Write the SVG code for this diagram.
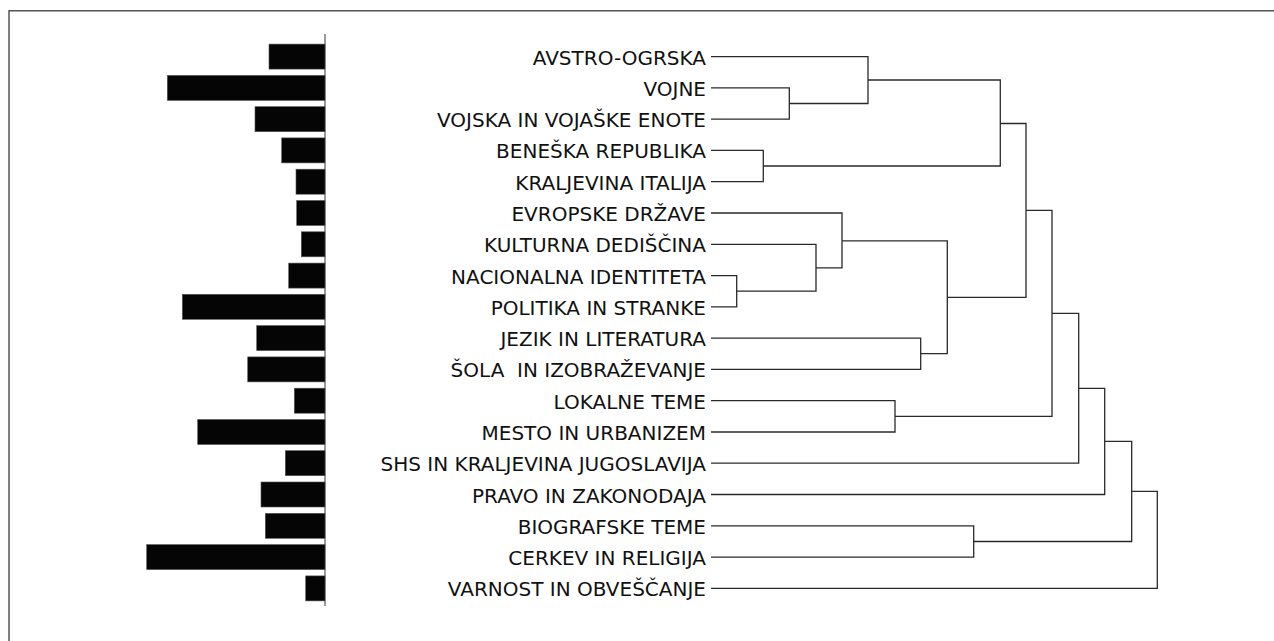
<svg xmlns="http://www.w3.org/2000/svg" width="1274" height="641" viewBox="0 0 1274 641">
<style>
.bar{fill:#050505;stroke:#555;stroke-width:0.6}
.lbl{font-family:"DejaVu Sans",Verdana,sans-serif;font-size:20px;fill:#111;text-anchor:end}
.ln{fill:none;stroke:#2a2a2a;stroke-width:1.3}
.frame{fill:none;stroke:#555;stroke-width:1.5}
</style>
<rect width="1274" height="641" fill="#fff"/>
<path class="frame" d="M9,641 V10.7 H1274"/>
<g id="bars">
<line x1="325" y1="34" x2="325" y2="606" stroke="#777" stroke-width="1.5"/>
<rect class="bar" x="269" y="44.1" width="56" height="25"/>
<rect class="bar" x="167.3" y="75.4" width="157.7" height="25"/>
<rect class="bar" x="255" y="106.7" width="70" height="25"/>
<rect class="bar" x="281.7" y="137.9" width="43.3" height="25"/>
<rect class="bar" x="296" y="169.2" width="29" height="25"/>
<rect class="bar" x="296.7" y="200.5" width="28.3" height="25"/>
<rect class="bar" x="301.3" y="231.8" width="23.7" height="25"/>
<rect class="bar" x="288.7" y="263.1" width="36.3" height="25"/>
<rect class="bar" x="182.3" y="294.3" width="142.7" height="25"/>
<rect class="bar" x="256.7" y="325.6" width="68.3" height="25"/>
<rect class="bar" x="247.7" y="356.9" width="77.3" height="25"/>
<rect class="bar" x="294.3" y="388.2" width="30.7" height="25"/>
<rect class="bar" x="197.7" y="419.5" width="127.3" height="25"/>
<rect class="bar" x="285.3" y="450.7" width="39.7" height="25"/>
<rect class="bar" x="261" y="482" width="64" height="25"/>
<rect class="bar" x="265.3" y="513.3" width="59.7" height="25"/>
<rect class="bar" x="146.7" y="544.6" width="178.3" height="25"/>
<rect class="bar" x="305.7" y="575.9" width="19.3" height="25"/>
</g>
<g id="n0"><text class="lbl" x="706" y="64.6">AVSTRO-OGRSKA</text></g>
<g id="n1"><text class="lbl" x="706" y="95.9">VOJNE</text></g>
<g id="n2"><text class="lbl" x="706" y="127.2">VOJSKA IN VOJAŠKE ENOTE</text></g>
<g id="n3"><text class="lbl" x="706" y="158.4">BENEŠKA REPUBLIKA</text></g>
<g id="n4"><text class="lbl" x="706" y="189.7">KRALJEVINA ITALIJA</text></g>
<g id="n5"><text class="lbl" x="706" y="221">EVROPSKE DRŽAVE</text></g>
<g id="n6"><text class="lbl" x="706" y="252.3">KULTURNA DEDIŠČINA</text></g>
<g id="n7"><text class="lbl" x="706" y="283.6">NACIONALNA IDENTITETA</text></g>
<g id="n8"><text class="lbl" x="706" y="314.8">POLITIKA IN STRANKE</text></g>
<g id="n9"><text class="lbl" x="706" y="346.1">JEZIK IN LITERATURA</text></g>
<g id="n10"><text class="lbl" x="706" y="377.4" xml:space="preserve">ŠOLA  IN IZOBRAŽEVANJE</text></g>
<g id="n11"><text class="lbl" x="706" y="408.7">LOKALNE TEME</text></g>
<g id="n12"><text class="lbl" x="706" y="440">MESTO IN URBANIZEM</text></g>
<g id="n13"><text class="lbl" x="706" y="471.2">SHS IN KRALJEVINA JUGOSLAVIJA</text></g>
<g id="n14"><text class="lbl" x="706" y="502.5">PRAVO IN ZAKONODAJA</text></g>
<g id="n15"><text class="lbl" x="706" y="533.8">BIOGRAFSKE TEME</text></g>
<g id="n16"><text class="lbl" x="706" y="565.1">CERKEV IN RELIGIJA</text></g>
<g id="n17"><text class="lbl" x="706" y="596.4">VARNOST IN OBVEŠČANJE</text></g>
<g id="connectors">
<path class="ln" d="M711,87.9 H789.3 V119.2 H711"/>
<path class="ln" d="M711,56.6 H868 V103.5 H789.3"/>
<path class="ln" d="M711,150.4 H763.3 V181.7 H711"/>
<path class="ln" d="M868,80 H1000.3 V166 H763.3"/>
<path class="ln" d="M711,275.6 H736.7 V306.8 H711"/>
<path class="ln" d="M711,244.3 H816 V291.2 H736.7"/>
<path class="ln" d="M711,213 H842 V267.8 H816"/>
<path class="ln" d="M711,338.1 H920.7 V369.4 H711"/>
<path class="ln" d="M842,240.9 H947.3 V353.7 H920.7"/>
<path class="ln" d="M1000.3,123.5 H1026 V297.3 H947.3"/>
<path class="ln" d="M711,400.7 H895 V432 H711"/>
<path class="ln" d="M1026,210.4 H1052 V416.4 H895"/>
<path class="ln" d="M1052,313.4 H1078.7 V463.2 H711"/>
<path class="ln" d="M1078.7,388.3 H1104.7 V494.5 H711"/>
<path class="ln" d="M711,525.8 H973.7 V557.1 H711"/>
<path class="ln" d="M1104.7,441.4 H1131.7 V541.5 H973.7"/>
<path class="ln" d="M1131.7,491.4 H1157.3 V588.4 H711"/>
</g>
</svg>
